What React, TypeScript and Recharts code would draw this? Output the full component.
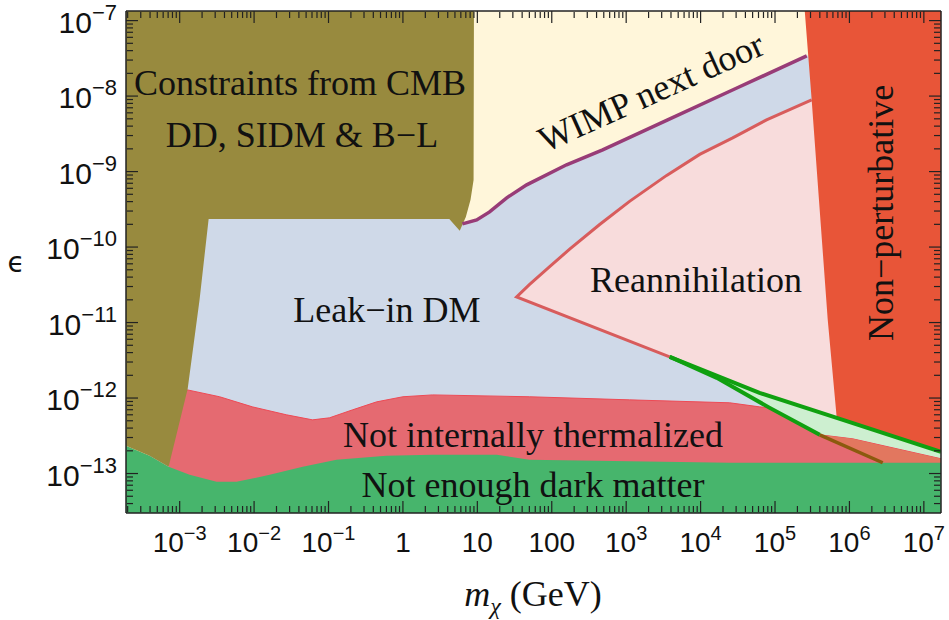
import React from "react";
import { ComposedChart, Area, Line, XAxis, YAxis } from "recharts";

// plot range (GeV on x, epsilon on y)
const XMIN = 1.9e-4;
const XMAX = 1.7e7;
const YMIN = 3.0e-14;
const YMAX = 1.34e-7;

const xMajor = [1e-3, 1e-2, 1e-1, 1, 10, 100, 1e3, 1e4, 1e5, 1e6, 1e7];
const xTickLabels = [
  { base: "10", sup: "−3" },
  { base: "10", sup: "−2" },
  { base: "10", sup: "−1" },
  { base: "1", sup: "" },
  { base: "10", sup: "" },
  { base: "100", sup: "" },
  { base: "10", sup: "3" },
  { base: "10", sup: "4" },
  { base: "10", sup: "5" },
  { base: "10", sup: "6" },
  { base: "10", sup: "7" },
];
const yMajor = [1e-13, 1e-12, 1e-11, 1e-10, 1e-9, 1e-8, 1e-7];
const yTickLabels = ["−13", "−12", "−11", "−10", "−9", "−8", "−7"];

const minorSteps = [2, 3, 4, 5, 6, 7, 8, 9];
const xDecades = [1e-4, 1e-3, 1e-2, 1e-1, 1, 10, 100, 1e3, 1e4, 1e5, 1e6, 1e7];
const yDecades = [1e-14, 1e-13, 1e-12, 1e-11, 1e-10, 1e-9, 1e-8, 1e-7];
const xMinor = xDecades
  .flatMap((d) => minorSteps.map((k) => k * d))
  .filter((v) => v > XMIN && v < XMAX);
const yMinor = yDecades
  .flatMap((d) => minorSteps.map((k) => k * d))
  .filter((v) => v > YMIN && v < YMAX);

// whole plot background ("WIMP next door")
const cream = [
  { x: XMIN, v: YMAX },
  { x: XMAX, v: YMAX },
];

// WIMP next door boundary (purple)
const wimpEdge = [
  { x: 6.3, v: 2.03e-10 },
  { x: 9.8, v: 2.29e-10 },
  { x: 14.6, v: 2.92e-10 },
  { x: 24.8, v: 4.49e-10 },
  { x: 46, v: 6.67e-10 },
  { x: 158, v: 1.23e-9 },
  { x: 483, v: 1.94e-9 },
  { x: 3610, v: 4.84e-9 },
  { x: 2.87e4, v: 1.24e-8 },
  { x: 2.67e5, v: 3.41e-8 },
];

// leak-in DM (blue), upper edge
const leakIn = [
  { x: 3.9e-4, v: 2.36e-10 },
  { x: 4.2, v: 2.36e-10 },
  ...wimpEdge,
  { x: XMAX, v: YMAX },
];

// reannihilation (pink)
const reann = [
  { x: 33.7, r: [2.19e-11, 2.19e-11] },
  { x: 50, r: [1.87e-11, 3.18e-11] },
  { x: 93.7, r: [1.48e-11, 5.52e-11] },
  { x: 174, r: [1.16e-11, 9.37e-11] },
  { x: 440, r: [8.13e-12, 1.99e-10] },
  { x: 1110, r: [5.67e-12, 4.03e-10] },
  { x: 3500, r: [3.65e-12, 8.9e-10] },
  { x: 3840, r: [3.52e-12, 9.46e-10] },
  { x: 9730, r: [2.44e-12, 1.69e-9] },
  { x: 2.7e4, r: [1.63e-12, 2.79e-9] },
  { x: 6.2e4, r: [1.17e-12, 4.32e-9] },
  { x: 7.7e4, r: [1.09e-12, 4.84e-9] },
  { x: 3.11e5, r: [7.0e-13, 8.9e-9] },
  { x: 6.75e5, r: [5.47e-13, 8.9e-9] },
];

// reannihilation boundary (red line)
const reannEdge = [
  { x: 3.11e5, v: 8.9e-9 },
  { x: 7.7e4, v: 4.84e-9 },
  { x: 2.7e4, v: 2.79e-9 },
  { x: 9730, v: 1.69e-9 },
  { x: 3500, v: 8.9e-10 },
  { x: 1110, v: 4.03e-10 },
  { x: 440, v: 1.99e-10 },
  { x: 174, v: 9.37e-11 },
  { x: 93.7, v: 5.52e-11 },
  { x: 50, v: 3.18e-11 },
  { x: 33.7, v: 2.19e-11 },
  { x: 3840, v: 3.52e-12 },
];

// band between the two green lines
const greenBand = [
  { x: 3840, r: [3.52e-12, 3.52e-12] },
  { x: 1.65e4, r: [1.85e-12, 1.98e-12] },
  { x: 6.2e4, r: [8.83e-13, 1.17e-12] },
  { x: 8.5e4, r: [7.41e-13, 1.06e-12] },
  { x: 3.99e5, r: [3.26e-13, 6.47e-13] },
  { x: 6.75e5, r: [3.05e-13, 5.47e-13] },
  { x: 1.11e6, r: [2.88e-13, 4.67e-13] },
  { x: XMAX, r: [1.57e-13, 1.94e-13] },
];
const greenUpper = [
  { x: 3840, v: 3.52e-12 },
  { x: 6.2e4, v: 1.17e-12 },
  { x: 6.75e5, v: 5.47e-13 },
  { x: XMAX, v: 1.94e-13 },
];
const greenLower = [
  { x: 3840, v: 3.52e-12 },
  { x: 1.65e4, v: 1.85e-12 },
  { x: 8.5e4, v: 7.41e-13 },
  { x: 3.99e5, v: 3.26e-13 },
];
const brownLine = [
  { x: 3.99e5, v: 3.26e-13 },
  { x: 2.8e6, v: 1.39e-13 },
];

// not internally thermalized (red), upper edge
const notTherm = [
  { x: 7.1e-4, v: 1.32e-12 },
  { x: 1.28e-3, v: 1.28e-12 },
  { x: 3.44e-3, v: 1.04e-12 },
  { x: 9.5e-3, v: 7.64e-13 },
  { x: 2.73e-2, v: 5.99e-13 },
  { x: 6.1e-2, v: 5.14e-13 },
  { x: 0.103, v: 5.47e-13 },
  { x: 0.211, v: 6.98e-13 },
  { x: 0.443, v: 8.9e-13 },
  { x: 1, v: 1.04e-12 },
  { x: 2.5, v: 1.1e-12 },
  { x: 50, v: 1.04e-12 },
  { x: 1110, v: 9.46e-13 },
  { x: 2.46e4, v: 8.65e-13 },
  { x: 6.2e4, v: 7.64e-13 },
  { x: 8.5e4, v: 7.41e-13 },
  { x: 3.99e5, v: 3.26e-13 },
  { x: 1.11e6, v: 2.88e-13 },
  { x: XMAX, v: 1.57e-13 },
];
const overlapPatch = [
  { x: 3.99e5, r: [3.26e-13, 3.26e-13] },
  { x: 1.11e6, r: [2.08e-13, 2.88e-13] },
  { x: 2.8e6, r: [1.39e-13, 2.34e-13] },
  { x: XMAX, r: [1.39e-13, 1.57e-13] },
];

// not enough dark matter (green), upper edge
const notEnough = [
  { x: XMIN, v: 2.33e-13 },
  { x: 3.94e-4, v: 1.72e-13 },
  { x: 7.1e-4, v: 1.23e-13 },
  { x: 1.36e-3, v: 9.6e-14 },
  { x: 3.13e-3, v: 7.76e-14 },
  { x: 5.8e-3, v: 7.76e-14 },
  { x: 1.62e-2, v: 9.6e-14 },
  { x: 4.5e-2, v: 1.23e-13 },
  { x: 0.128, v: 1.52e-13 },
  { x: 0.6, v: 1.72e-13 },
  { x: 2.5, v: 1.77e-13 },
  { x: 18.2, v: 1.77e-13 },
  { x: 50, v: 1.52e-13 },
  { x: 2.46e4, v: 1.39e-13 },
  { x: XMAX, v: 1.39e-13 },
];

// CMB / DD / SIDM / B-L constraints (olive)
const cmb = [
  { x: XMIN, r: [2.33e-13, YMAX] },
  { x: 3.94e-4, r: [1.72e-13, YMAX] },
  { x: 7.1e-4, r: [1.23e-13, YMAX] },
  { x: 1.28e-3, r: [1.32e-12, YMAX] },
  { x: 1.85e-3, r: [2.0e-11, YMAX] },
  { x: 2.45e-3, r: [2.36e-10, YMAX] },
  { x: 4.2, r: [2.36e-10, YMAX] },
  { x: 5.8, r: [1.64e-10, YMAX] },
  { x: 7.0, r: [2.51e-10, YMAX] },
  { x: 8.1, r: [4.22e-10, YMAX] },
  { x: 8.9, r: [7.76e-10, YMAX] },
  { x: 9.0, r: [YMAX, YMAX] },
];

// non-perturbative (red-orange)
const nonPert = [
  { x: 2.51e5, r: [YMAX, YMAX] },
  { x: 3.11e5, r: [8.9e-9, YMAX] },
  { x: 3.87e5, r: [4.62e-10, YMAX] },
  { x: 5.11e5, r: [1.09e-11, YMAX] },
  { x: 6.75e5, r: [5.47e-13, YMAX] },
  { x: 1.11e6, r: [4.67e-13, YMAX] },
  { x: XMAX, r: [1.94e-13, YMAX] },
];

const TICK_FONT = "'Liberation Sans', Arial, Helvetica, sans-serif";
const SERIF = "'Liberation Serif', 'Times New Roman', Times, serif";
const FRAME = "#222";

const XTick = (props: any) => {
  const { x, y, payload } = props;
  const i = xMajor.findIndex((v) => Math.abs(v / payload.value - 1) < 1e-6);
  const lab = xTickLabels[i];
  if (!lab) return <g />;
  return (
    <text x={x} y={y + 39} textAnchor="middle" fontFamily={TICK_FONT} fontSize={28} fill="#111">
      {lab.base}
      {lab.sup && (
        <tspan dy={-12} fontSize={20}>
          {lab.sup}
        </tspan>
      )}
    </text>
  );
};

const YTick = (props: any) => {
  const { x, y, payload } = props;
  const i = yMajor.findIndex((v) => Math.abs(v / payload.value - 1) < 1e-6);
  if (i < 0) return <g />;
  return (
    <text x={x - 9} y={y + 12} textAnchor="end" fontFamily={TICK_FONT} fontSize={30} fill="#111">
      10
      <tspan dy={-13} fontSize={22}>
        {yTickLabels[i]}
      </tspan>
    </text>
  );
};

const NoTick = () => <g />;

// invisible series so that the frame axes (ticks only) have an item bound to them
const frameAxes = [
  { x: "xb1", y: "yl1" },
  { x: "xb2", y: "yl2" },
  { x: "xt1", y: "yr1" },
  { x: "xt2", y: "yr2" },
];

export default function App() {
  const xCommon = {
    type: "number" as const,
    scale: "log" as const,
    domain: [XMIN, XMAX],
    allowDataOverflow: true,
    interval: 0 as const,
  };
  const yCommon = {
    type: "number" as const,
    scale: "log" as const,
    domain: [YMIN, YMAX],
    allowDataOverflow: true,
    interval: 0 as const,
  };
  const tickLineStyle = { stroke: FRAME, strokeWidth: 1.2 };

  return (
    <div style={{ position: "absolute", left: 0, top: 0, width: 949, height: 620 }}>
      <ComposedChart width={949} height={620} margin={{ top: 11, right: 8, bottom: 0, left: 0 }}>
        <Area xAxisId="x" yAxisId="y" data={cream} dataKey="v" fill="#FFF6DA" fillOpacity={1} stroke="none" isAnimationActive={false} activeDot={false} />
        <Area xAxisId="x" yAxisId="y" data={leakIn} dataKey="v" fill="#CFD9E8" fillOpacity={1} stroke="none" isAnimationActive={false} activeDot={false} />
        <Area xAxisId="x" yAxisId="y" data={reann} dataKey="r" fill="#F8DCDC" fillOpacity={1} stroke="none" isAnimationActive={false} activeDot={false} />
        <Area xAxisId="x" yAxisId="y" data={greenBand} dataKey="r" fill="#CDEFD0" fillOpacity={1} stroke="none" isAnimationActive={false} activeDot={false} />
        <Area xAxisId="x" yAxisId="y" data={notTherm} dataKey="v" fill="#E56A71" fillOpacity={1} stroke="#EE4A55" strokeWidth={1} isAnimationActive={false} activeDot={false} />
        <Area xAxisId="x" yAxisId="y" data={overlapPatch} dataKey="r" fill="#E2775F" fillOpacity={1} stroke="none" isAnimationActive={false} activeDot={false} />
        <Area xAxisId="x" yAxisId="y" data={notEnough} dataKey="v" fill="#47B56C" fillOpacity={1} stroke="none" isAnimationActive={false} activeDot={false} />
        <Area xAxisId="x" yAxisId="y" data={cmb} dataKey="r" fill="#988A3E" fillOpacity={1} stroke="none" isAnimationActive={false} activeDot={false} />
        <Area xAxisId="x" yAxisId="y" data={nonPert} dataKey="r" fill="#E85538" fillOpacity={1} stroke="none" isAnimationActive={false} activeDot={false} />

        <Line xAxisId="x" yAxisId="y" data={wimpEdge} dataKey="v" stroke="#983C77" strokeWidth={3.5} dot={false} activeDot={false} isAnimationActive={false} />
        <Line xAxisId="x" yAxisId="y" data={reannEdge} dataKey="v" stroke="#D85C5C" strokeWidth={3} dot={false} activeDot={false} isAnimationActive={false} />
        <Line xAxisId="x" yAxisId="y" data={brownLine} dataKey="v" stroke="#8B5A0E" strokeWidth={3.5} dot={false} activeDot={false} isAnimationActive={false} />
        <Line xAxisId="x" yAxisId="y" data={greenUpper} dataKey="v" stroke="#10A010" strokeWidth={4} dot={false} activeDot={false} isAnimationActive={false} />
        <Line xAxisId="x" yAxisId="y" data={greenLower} dataKey="v" stroke="#10A010" strokeWidth={4} dot={false} activeDot={false} isAnimationActive={false} />

        {frameAxes.map((a) => (
          <Line
            key={a.x}
            xAxisId={a.x}
            yAxisId={a.y}
            data={cream}
            dataKey="v"
            stroke="none"
            dot={false}
            activeDot={false}
            isAnimationActive={false}
          />
        ))}

        <XAxis
          xAxisId="x"
          dataKey="x"
          {...xCommon}
          ticks={xMajor}
          height={107}
          tickLine={false}
          tickSize={0}
          tickMargin={0}
          axisLine={{ stroke: FRAME, strokeWidth: 1.5 }}
          tick={(p: any) => <XTick {...p} />}
        />
        <XAxis xAxisId="xb1" dataKey="x" {...xCommon} ticks={xMajor} mirror height={1} tickSize={12} tickLine={tickLineStyle} axisLine={false} tick={NoTick} />
        <XAxis xAxisId="xb2" dataKey="x" {...xCommon} ticks={xMinor} mirror height={1} tickSize={6} tickLine={tickLineStyle} axisLine={false} tick={NoTick} />
        <XAxis xAxisId="xt1" dataKey="x" {...xCommon} orientation="top" ticks={xMajor} mirror height={1} tickSize={12} tickLine={tickLineStyle} axisLine={{ stroke: FRAME, strokeWidth: 1.5 }} tick={NoTick} />
        <XAxis xAxisId="xt2" dataKey="x" {...xCommon} orientation="top" ticks={xMinor} mirror height={1} tickSize={6} tickLine={tickLineStyle} axisLine={false} tick={NoTick} />
        <YAxis
          yAxisId="y"
          {...yCommon}
          ticks={yMajor}
          width={126}
          tickLine={false}
          tickSize={0}
          tickMargin={0}
          axisLine={{ stroke: FRAME, strokeWidth: 1.5 }}
          tick={(p: any) => <YTick {...p} />}
        />
        <YAxis yAxisId="yl1" {...yCommon} ticks={yMajor} mirror width={1} tickSize={12} tickLine={tickLineStyle} axisLine={false} tick={NoTick} />
        <YAxis yAxisId="yl2" {...yCommon} ticks={yMinor} mirror width={1} tickSize={6} tickLine={tickLineStyle} axisLine={false} tick={NoTick} />
        <YAxis yAxisId="yr1" {...yCommon} orientation="right" ticks={yMajor} mirror width={1} tickSize={12} tickLine={tickLineStyle} axisLine={{ stroke: FRAME, strokeWidth: 1.5 }} tick={NoTick} />
        <YAxis yAxisId="yr2" {...yCommon} orientation="right" ticks={yMinor} mirror width={1} tickSize={6} tickLine={tickLineStyle} axisLine={false} tick={NoTick} />
      </ComposedChart>

      <svg
        width={949}
        height={620}
        style={{ position: "absolute", left: 0, top: 0, pointerEvents: "none" }}
      >
        <g fontFamily={SERIF} fontSize={36} fill="#111">
          <text x={300} y={95} textAnchor="middle">Constraints from CMB</text>
          <text x={302} y={147} textAnchor="middle">DD, SIDM &amp; B−L</text>
          <text x={656} y={103} textAnchor="middle" transform="rotate(-24.2 656 103)">WIMP next door</text>
          <text x={387} y={322} textAnchor="middle">Leak−in DM</text>
          <text x={696} y={292} textAnchor="middle">Reannihilation</text>
          <text x={893} y={213} textAnchor="middle" transform="rotate(-90 893 213)">Non−perturbative</text>
          <text x={533} y={447} textAnchor="middle">Not internally thermalized</text>
          <text x={533} y={497} textAnchor="middle">Not enough dark matter</text>
          <text x={533} y={606} textAnchor="middle">
            <tspan fontStyle="italic">m</tspan>
            <tspan fontStyle="italic" fontSize={24} dy={8}>χ</tspan>
            <tspan dy={-8}> (GeV)</tspan>
          </text>
        </g>
        <text x={16} y={272} textAnchor="middle" fontFamily="'DejaVu Sans', sans-serif" fontSize={28} fill="#111">
          ϵ
        </text>
      </svg>
    </div>
  );
}
